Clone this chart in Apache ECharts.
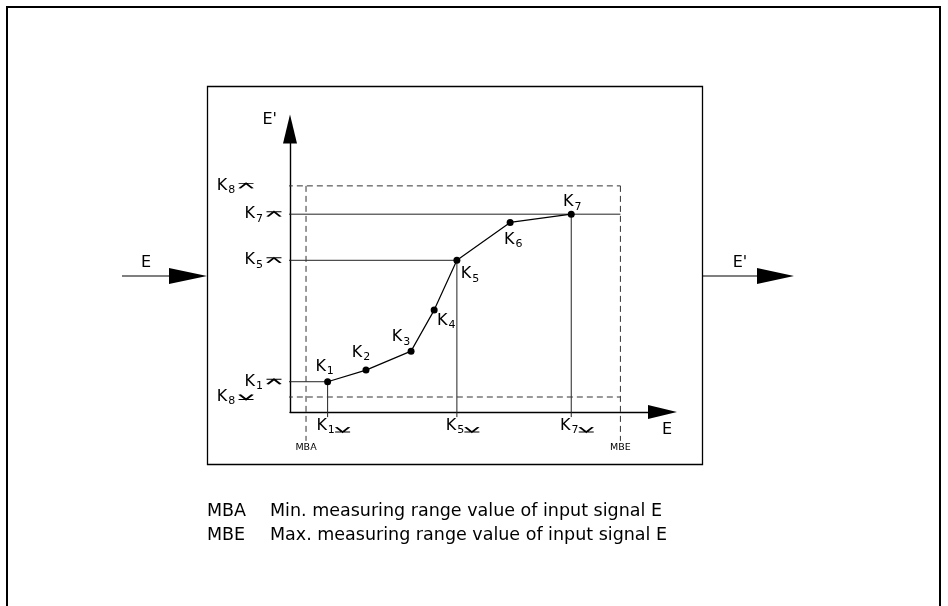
<!DOCTYPE html>
<html><head><meta charset="utf-8">
<script src="https://cdn.jsdelivr.net/npm/echarts/dist/echarts.min.js"></script>
<style>html,body{margin:0;padding:0;background:#fff}#c{width:948px;height:606px}</style>
</head><body><div id="c"></div>
<script>
// ---- data (axis units: E on x, E' on y, 0..100) ----
const pointNames = ['1', '2', '3', '4', '5', '6', '7'];
const inputE  = [10.1, 20.4, 32.5, 38.7, 44.8, 59.1, 75.5];
const outputE = [10.7, 14.8, 21.5, 36.0, 53.6, 67.0, 69.9];
const rangeE = [4.3, 88.7];          // MBA, MBE
const rangeNames = ['MBA', 'MBE'];
const rangeOut = [5.3, 79.9];        // K8 lower, K8 upper
const levelIdx = [0, 4, 6];          // K1, K5, K7 projected to both axes
const legendRows = [
  ['MBA', 'Min. measuring range value of input signal E'],
  ['MBE', 'Max. measuring range value of input signal E']
];

// ---- layout / style ----
const FONT = 'DejaVu Sans';
const levelStart = -1.3, dashStart = -8.9, dropEnd = -1.8, rangeEnd = -10.2;
const bottomLabelY = -4.8, leftMarkX = -4.3, k8MarkX = -11.8;
const labelOffsets = [[-3, -15], [-5, -17], [-10, -14], [12, 11], [13, 14], [3, 17], [1, -12]];
const UP = 'path://M0,0L14,0M1,5L7,0L13,5';
const DOWN = 'path://M1,0L7,5L13,0M0,5L14,5';
const rich = {
  k: {fontFamily: FONT, fontSize: 16, color: '#000'},
  s: {fontFamily: FONT, fontSize: 11, color: '#000', padding: [9, 0, 0, 1]}
};
const kFmt = p => '{k|K}{s|' + p.name + '}';
const thin = {color: '#222', width: 1};
const dashed = {color: '#333', width: 1, type: [6, 4]};
const markStyle = {color: 'rgba(0,0,0,0)', borderColor: '#000', borderWidth: 1.6, opacity: 1};
const hiddenStyle = {color: 'rgba(0,0,0,0)', opacity: 1};

function seg(pts, style) {
  return {type: 'line', data: pts, clip: false, symbol: 'none', silent: true,
          lineStyle: style, z: 2, animation: false};
}
const series = [];
levelIdx.forEach(i => {
  const xEnd = i === 6 ? rangeE[1] : inputE[i];
  series.push(seg([[levelStart, outputE[i]], [xEnd, outputE[i]]], thin));
  series.push(seg([[inputE[i], outputE[i]], [inputE[i], dropEnd]], thin));
});
series.push(seg([[dashStart, rangeOut[1]], [rangeE[1], rangeOut[1]]], dashed));
series.push(seg([[dashStart, rangeOut[0]], [rangeE[1], rangeOut[0]]], dashed));
series.push(seg([[rangeE[0], rangeOut[1]], [rangeE[0], rangeEnd]], dashed));
series.push(seg([[rangeE[1], rangeOut[1]], [rangeE[1], rangeEnd]], dashed));

// characteristic curve
series.push({
  type: 'line', clip: false, animation: false, z: 5,
  data: inputE.map((x, i) => ({name: pointNames[i], value: [x, outputE[i]], label: {offset: labelOffsets[i]}})),
  symbol: 'circle', symbolSize: 7,
  itemStyle: {color: '#000'},
  lineStyle: {color: '#000', width: 1.2},
  label: {show: true, position: 'inside', formatter: kFmt, rich: rich}
});
// left markers (upper style)
const leftUp = levelIdx.map(i => ({name: pointNames[i], value: [leftMarkX, outputE[i]]}));
leftUp.push({name: '8', value: [k8MarkX, rangeOut[1]]});
series.push({
  type: 'scatter', clip: false, animation: false, silent: true,
  data: leftUp, symbol: UP, symbolSize: [15, 5], itemStyle: markStyle,
  label: {show: true, position: 'left', distance: 2, formatter: kFmt, rich: rich}
});
series.push({
  type: 'scatter', clip: false, animation: false, silent: true,
  data: [{name: '8', value: [k8MarkX, rangeOut[0]]}], symbol: DOWN, symbolSize: [15, 5], itemStyle: markStyle,
  label: {show: true, position: 'left', distance: 2, formatter: kFmt, rich: rich}
});
// bottom markers and labels
series.push({
  type: 'scatter', clip: false, animation: false, silent: true,
  data: levelIdx.map(i => ({name: pointNames[i], value: [inputE[i], bottomLabelY]})),
  symbol: DOWN, symbolSize: [15, 5], symbolOffset: [15, 4], itemStyle: markStyle
});
series.push({
  type: 'scatter', clip: false, animation: false, silent: true,
  data: levelIdx.map(i => ({name: pointNames[i], value: [inputE[i], bottomLabelY]})),
  symbolSize: 1, itemStyle: hiddenStyle,
  label: {show: true, position: 'inside', offset: [-2, 0], formatter: kFmt, rich: rich}
});
// MBA / MBE labels
series.push({
  type: 'scatter', clip: false, animation: false, silent: true,
  data: rangeE.map((x, i) => ({name: rangeNames[i], value: [x, rangeEnd]})),
  symbolSize: 1, itemStyle: hiddenStyle,
  label: {show: true, position: 'bottom', distance: 1, formatter: '{b}',
          fontFamily: FONT, fontSize: 9.5, color: '#000'}
});

const axisCommon = {
  type: 'value', min: 0, max: 100,
  axisLine: {show: true, onZero: false, symbol: ['none', 'triangle'], symbolSize: [14, 29],
             lineStyle: {color: '#000', width: 1.4}},
  axisTick: {show: false}, axisLabel: {show: false}, splitLine: {show: false}
};

const F16 = '16px "' + FONT + '"';
const FL = '17.5px "' + FONT + '"';
const graphic = [
  {type: 'rect', shape: {x: 7, y: 7, width: 933, height: 660}, style: {fill: 'none', stroke: '#000', lineWidth: 2}},
  {type: 'rect', shape: {x: 207.5, y: 86.5, width: 495, height: 378}, style: {fill: 'none', stroke: '#000', lineWidth: 1.3}},
  {type: 'line', shape: {x1: 122, y1: 276, x2: 172, y2: 276}, style: {stroke: '#000', lineWidth: 1.2}},
  {type: 'polygon', shape: {points: [[169, 268], [207, 276], [169, 284]]}, style: {fill: '#000'}},
  {type: 'line', shape: {x1: 703, y1: 276, x2: 760, y2: 276}, style: {stroke: '#000', lineWidth: 1.2}},
  {type: 'polygon', shape: {points: [[757, 268], [794, 276], [757, 284]]}, style: {fill: '#000'}},
  {type: 'text', x: 146, y: 263, style: {text: 'E', font: F16, fill: '#000', textAlign: 'center', textVerticalAlign: 'middle'}},
  {type: 'text', x: 740, y: 263, style: {text: "E'", font: F16, fill: '#000', textAlign: 'center', textVerticalAlign: 'middle'}}
];
legendRows.forEach((r, i) => {
  const y = 511 + i * 24;
  graphic.push({type: 'text', x: 207, y: y, style: {text: r[0], font: FL, fill: '#000', textVerticalAlign: 'middle'}});
  graphic.push({type: 'text', x: 270, y: y, style: {text: r[1], font: FL, fill: '#000', textVerticalAlign: 'middle'}});
});

const chart = echarts.init(document.getElementById('c'), null, {renderer: 'canvas'});
chart.setOption({
  animation: false,
  backgroundColor: '#fff',
  grid: {left: 290, right: 285.5, top: 129, bottom: 194, containLabel: false},
  xAxis: Object.assign({}, axisCommon, {
    name: 'E', nameLocation: 'end', nameGap: 4.5,
    nameTextStyle: {fontFamily: FONT, fontSize: 16, color: '#000', align: 'center', verticalAlign: 'top', padding: [10, 0, 0, 0]}
  }),
  yAxis: Object.assign({}, axisCommon, {
    name: "E'", nameLocation: 'end', nameGap: 9,
    nameTextStyle: {fontFamily: FONT, fontSize: 16, color: '#000', align: 'right', verticalAlign: 'middle', padding: [0, 13, 0, 0]}
  }),
  graphic: graphic,
  series: series
});
</script></body></html>
